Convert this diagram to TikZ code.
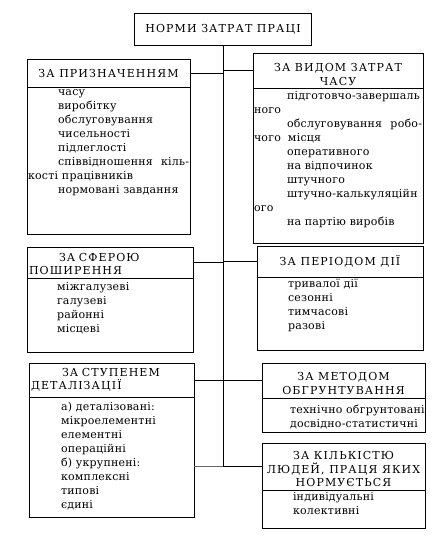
\documentclass[tikz,border=0pt]{standalone}
\usepackage{fontspec}
\setmainfont{DejaVu Serif}
\newfontfamily\headfont[LetterSpace=10]{DejaVu Serif}
\newfontfamily\listfont[LetterSpace=2]{DejaVu Serif}
\usepackage{tikz}
\usetikzlibrary{positioning}

\tikzset{
  head/.style={draw, line width=0.8pt, outer sep=0pt, inner sep=2pt, align=center,
    font=\headfont\fontsize{11}{13.5}\selectfont},
  listbox/.style={draw, line width=0.8pt, outer sep=0pt, inner ysep=0pt, inner xsep=1pt},
  link/.style={line width=0.6pt}
}
% list text: width, height, first baseline, lines
\newcommand{\lst}[4]{\parbox[t][#2][t]{#1}{\listfont\fontsize{11}{14}\selectfont\rule{0pt}{#3}#4}}

\begin{document}
\begin{tikzpicture}[x=1pt,y=-1pt]
  \useasboundingbox (0,0) rectangle (442,545);
  % Top
  \node[head, minimum width=177pt, minimum height=32pt] (norms) at (223,29) {НОРМИ ЗАТРАТ ПРАЦІ};
  % Left column
  \node[head, minimum width=163pt, minimum height=28pt] (purpose) at (108.5,73) {ЗА ПРИЗНАЧЕННЯМ};
  \node[listbox, below=0pt of purpose] (purposelist) {\lst{161pt}{147pt}{9pt}{%
    \hspace*{30pt}часу\\
    \hspace*{30pt}виробітку\\
    \hspace*{30pt}обслуговування\\
    \hspace*{30pt}чисельності\\
    \hspace*{30pt}підлеглості\\
    \hspace*{30pt}співвідношення\hfill кіль-\\
    \makebox[34pt][l]{кості}працівників\\
    \hspace*{30pt}нормовані завдання}};
  \node[head, minimum width=166pt, minimum height=31pt, align=left, text width=162pt] (scope) at (110,262.5)
    {\rule{0pt}{11pt}\hspace*{30pt}ЗА СФЕРОЮ\\ПОШИРЕННЯ};
  \node[listbox, below=0pt of scope] (scopelist) {\lst{164pt}{74pt}{12pt}{%
    \hspace*{29pt}міжгалузеві\\
    \hspace*{29pt}галузеві\\
    \hspace*{29pt}районні\\
    \hspace*{29pt}місцеві}};
  \node[head, minimum width=165pt, minimum height=34pt, align=left, text width=161pt] (detail) at (111.5,380)
    {\hspace*{31pt}ЗА СТУПЕНЕМ\\ДЕТАЛІЗАЦІЇ};
  \node[listbox, below=0pt of detail] (detaillist) {\lst{163pt}{120pt}{13pt}{%
    \hspace*{31pt}а) деталізовані:\\
    \hspace*{31pt}мікроелементні\\
    \hspace*{31pt}елементні\\
    \hspace*{31pt}операційні\\
    \hspace*{31pt}б) укрупнені:\\
    \hspace*{31pt}комплексні\\
    \hspace*{31pt}типові\\
    \hspace*{31pt}єдині}};
  % Right column
  \node[head, minimum width=170pt, minimum height=35pt] (timekind) at (338,70.5)
    {\rule{0pt}{16pt}ЗА ВИДОМ ЗАТРАТ\\ЧАСУ};
  \node[listbox, below=0pt of timekind] (timekindlist) {\lst{168pt}{155pt}{12pt}{%
    \hspace*{33pt}підготовчо-завершаль\\
    ного\\
    \hspace*{33pt}обслуговування\hfill робо-\\
    \makebox[34pt][l]{чого}місця\\
    \hspace*{33pt}оперативного\\
    \hspace*{33pt}на відпочинок\\
    \hspace*{33pt}штучного\\
    \hspace*{33pt}штучно-калькуляційн\\
    ого\\
    \hspace*{33pt}на партію виробів}};
  \node[head, minimum width=166pt, minimum height=31pt] (period) at (340,261.5) {ЗА ПЕРІОДОМ ДІЇ};
  \node[listbox, below=0pt of period] (periodlist) {\lst{164pt}{73pt}{10pt}{%
    \hspace*{30pt}тривалої дії\\
    \hspace*{30pt}сезонні\\
    \hspace*{30pt}тимчасові\\
    \hspace*{30pt}разові}};
  \node[head, minimum width=163pt, minimum height=35pt] (method) at (343.5,380.5)
    {\rule{0pt}{14pt}ЗА МЕТОДОМ\\ОБГРУНТУВАННЯ};
  \node[listbox, below=0pt of method] (methodlist) {\lst{161pt}{34pt}{15pt}{%
    \hspace*{27pt}\mbox{технічно обгрунтовані}\\
    \hspace*{27pt}\mbox{досвідно-статистичні}}};
  \node[head, minimum width=163pt, minimum height=47pt] (people) at (343.5,466.5)
    {\rule{0pt}{14pt}ЗА КІЛЬКІСТЮ\\ЛЮДЕЙ, ПРАЦЯ ЯКИХ\\НОРМУЄТЬСЯ};
  \node[listbox, below=0pt of people] (peoplelist) {\lst{161pt}{38pt}{10pt}{%
    \hspace*{30pt}індивідуальні\\
    \hspace*{30pt}колективні}};
  % Trunk
  \coordinate (trunkend) at (norms.south |- people.west);
  \draw[link] (norms.south) -- (trunkend);
  % Branches
  \draw[link] (purpose.east) -- (purpose.east -| norms.south);
  \draw[link] (scope.east) -- (scope.east -| norms.south);
  \draw[link] (detail.east) -- (detail.east -| norms.south);
  \draw[link] (timekind.west -| norms.south) -- (timekind.west);
  \draw[link] (period.west -| norms.south) -- (period.west);
  \draw[link] (method.west -| norms.south) -- (method.west);
  \draw[link] (trunkend) -- (people.west);
  \draw[link, black!60] (trunkend) -- (trunkend -| detaillist.east);
\end{tikzpicture}
\end{document}
